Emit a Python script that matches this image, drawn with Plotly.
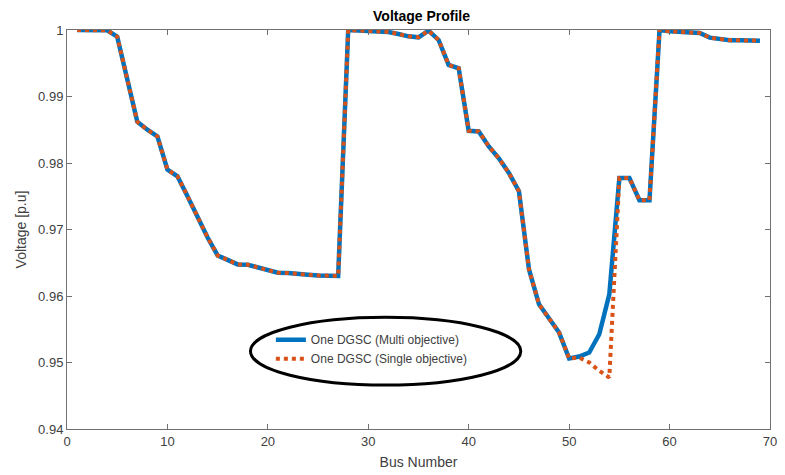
import plotly.graph_objects as go

bus = list(range(1, 70))

v_multi = [
    1.0, 1.0, 1.0, 0.99995, 0.9990, 0.9926, 0.9862, 0.9850, 0.9840, 0.9790,
    0.9780, 0.9750, 0.9718, 0.9688, 0.9661, 0.9655, 0.96475, 0.9647, 0.9643, 0.9639,
    0.9635, 0.96345, 0.9634, 0.9632, 0.9631, 0.9630, 0.9630, 1.0, 0.9999, 0.9999,
    0.99975, 0.9997, 0.9994, 0.99905, 0.9989, 0.9999, 0.9985, 0.99475, 0.99425, 0.98485,
    0.98475, 0.9825, 0.9807, 0.9785, 0.97575, 0.9640, 0.95875, 0.9565, 0.9545, 0.9506,
    0.9509, 0.9515, 0.95425, 0.96025, 0.97775, 0.97775, 0.9744, 0.9744, 1.0, 0.9998,
    0.9997, 0.9997, 0.99955, 0.99885, 0.9986, 0.99845, 0.99845, 0.9984, 0.9984,
]

v_single = [
    1.0, 1.0, 1.0, 0.99995, 0.9990, 0.9926, 0.9862, 0.9850, 0.9840, 0.9790,
    0.9780, 0.9750, 0.9718, 0.9688, 0.9661, 0.9655, 0.96475, 0.9647, 0.9643, 0.9639,
    0.9635, 0.96345, 0.9634, 0.9632, 0.9631, 0.9630, 0.9630, 1.0, 0.9999, 0.9999,
    0.99975, 0.9997, 0.9994, 0.99905, 0.9989, 0.9999, 0.9985, 0.99475, 0.99425, 0.98485,
    0.98475, 0.9825, 0.9807, 0.9785, 0.97575, 0.9640, 0.95875, 0.9565, 0.9545, 0.9506,
    0.95075, 0.9500, 0.94875, 0.94775, 0.97775, 0.97775, 0.9744, 0.9744, 1.0, 0.9998,
    0.9997, 0.9997, 0.99955, 0.99885, 0.9986, 0.99845, 0.99845, 0.9984, 0.9984,
]

x_ticks = [0, 10, 20, 30, 40, 50, 60, 70]
y_ticks = [0.94, 0.95, 0.96, 0.97, 0.98, 0.99, 1.0]
y_ticktext = ["0.94", "0.95", "0.96", "0.97", "0.98", "0.99", "1"]

names = ["One DGSC (Multi objective)", "One DGSC (Single objective)"]

FONT = "Liberation Sans, Arial, sans-serif"
AX = "#707070"

fig = go.Figure()
fig.add_trace(go.Scatter(x=bus, y=v_multi, mode="lines", name=names[0],
                         line=dict(color="#0072BD", width=4.5)))
fig.add_trace(go.Scatter(x=bus, y=v_single, mode="lines", name=names[1],
                         line=dict(color="#D95319", width=4, dash="dot")))

axis_common = dict(showgrid=False, zeroline=False, showline=True, linecolor=AX,
                   linewidth=1, mirror="ticks", ticks="inside", ticklen=5,
                   tickcolor=AX, tickfont=dict(family=FONT, size=13, color="#404040"))

fig.update_xaxes(range=[0, 70], tickvals=x_ticks,
                 title=dict(text="Bus Number", font=dict(family=FONT, size=14, color="#404040"), standoff=9),
                 **axis_common)
fig.update_yaxes(range=[0.94, 1.0], tickvals=y_ticks, ticktext=y_ticktext,
                 title=dict(text="Voltage [p.u]", font=dict(family=FONT, size=14, color="#404040"), standoff=8),
                 **axis_common)

fig.add_shape(type="circle", xref="paper", yref="paper",
              x0=0.261, x1=0.6455, y0=0.11, y1=0.28,
              line=dict(color="black", width=3))

fig.update_layout(
    width=785, height=475,
    margin=dict(l=67, r=8, t=30, b=45),
    paper_bgcolor="white", plot_bgcolor="white",
    title=dict(text="<b>Voltage Profile</b>", x=0.537, xanchor="center",
               y=0.967, yanchor="middle",
               font=dict(family=FONT, size=14, color="black")),
    legend=dict(x=0.29, y=0.26, xanchor="left", yanchor="top",
                bgcolor="rgba(0,0,0,0)", tracegroupgap=0,
                font=dict(family=FONT, size=12, color="#404040")),
    showlegend=True,
)

fig.write_html("out.html")
